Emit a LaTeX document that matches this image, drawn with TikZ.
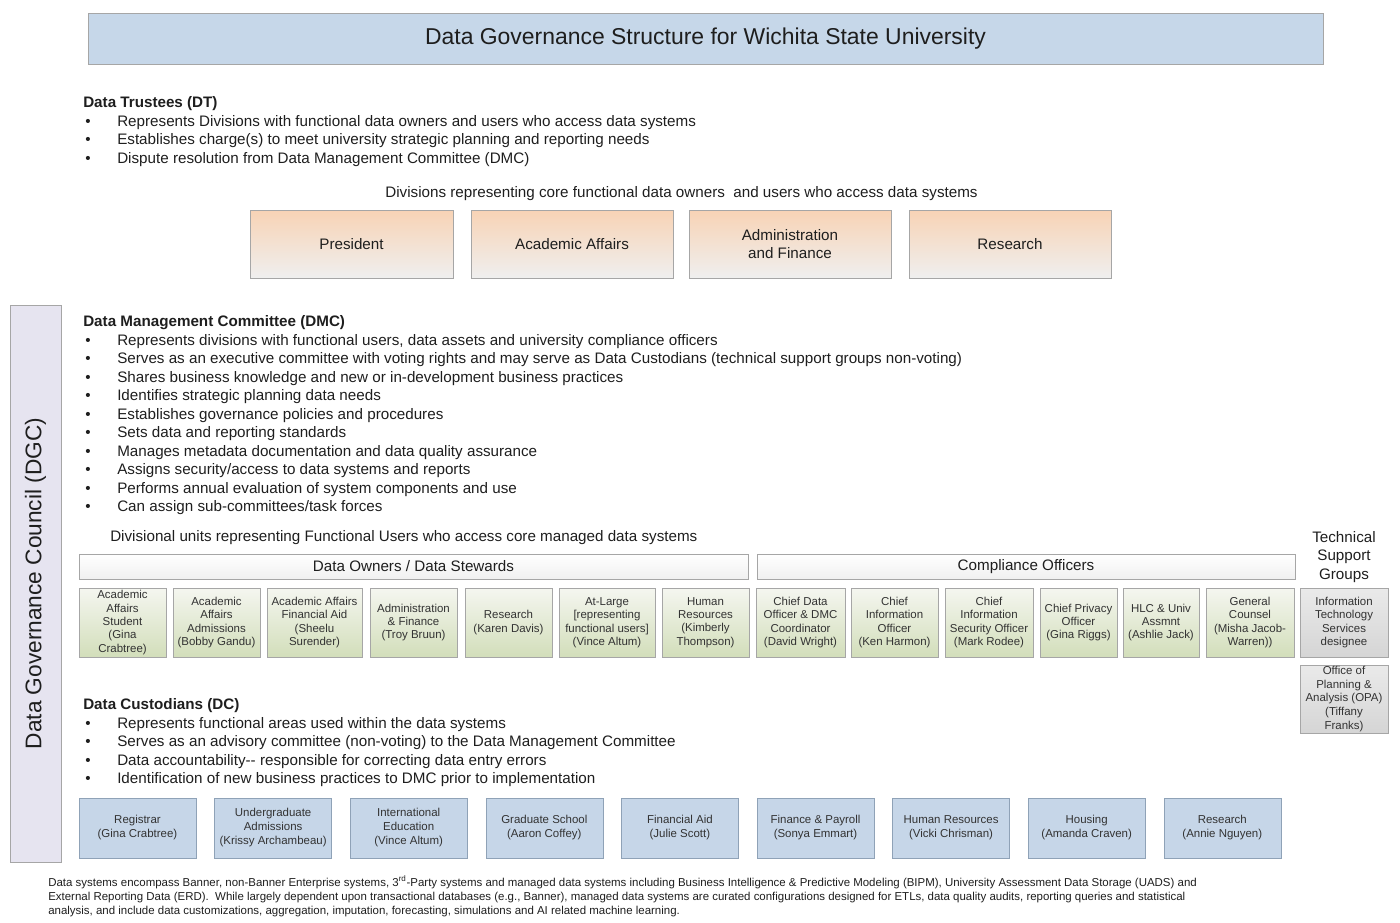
\documentclass[tikz,border=0pt]{standalone}
\usepackage{fontspec}
\setmainfont{Liberation Sans}
\usetikzlibrary{positioning,shadows}

\definecolor{txt}{HTML}{1E1E1E}
\definecolor{boxtxt}{HTML}{333333}
\definecolor{boxline}{HTML}{A6A6A6}
\definecolor{titlefill}{HTML}{C6D7E9}
\definecolor{bluefill}{HTML}{C6D6E8}
\definecolor{blueline}{HTML}{8FA2B7}
\definecolor{orgtop}{HTML}{F8D3B5}
\definecolor{orgbot}{HTML}{EFEFEF}
\definecolor{grntop}{HTML}{F5F6F0}
\definecolor{grnbot}{HTML}{D2DEBA}
\definecolor{grytop}{HTML}{EAEAEA}
\definecolor{grybot}{HTML}{D5D5D5}
\definecolor{dgcfill}{HTML}{E6E4F0}

\begin{document}
\begin{tikzpicture}[x=0.75pt, y=-0.75pt,
  every node/.style={text=txt, font=\fontsize{11.4}{13.9}\selectfont},
  heading/.style={anchor=west, inner sep=0pt, yshift=-1.5pt, font=\bfseries\fontsize{11.4}{13.9}\selectfont},
  bullettext/.style={anchor=west, inner sep=0pt, yshift=-1.5pt},
  bulletdot/.style={inner sep=0pt, yshift=-1.5pt},
  sized/.style 2 args={minimum width={(#1)*0.75pt}, minimum height={(#2)*0.75pt}, inner sep=1pt, align=center},
  divbox/.style={draw=boxline, top color=orgtop, bottom color=orgbot},
  barbox/.style={draw=boxline, top color=white, bottom color=grytop!70,
    drop shadow={opacity=0.25, shadow xshift=1pt, shadow yshift=-1pt}},
  ownbox/.style={draw=boxline, top color=grntop, bottom color=grnbot, text=boxtxt,
    font=\fontsize{8.6}{10.1}\selectfont},
  techbox/.style={draw=boxline, top color=grytop, bottom color=grybot, text=boxtxt,
    font=\fontsize{8.6}{10.2}\selectfont},
  custbox/.style={draw=blueline, fill=bluefill, text=boxtxt,
    font=\fontsize{8.6}{10.5}\selectfont}
]
\useasboundingbox (0,0) rectangle (1400,922);

% title
\node[draw=boxline, fill=titlefill, sized={1235}{51}, font=\fontsize{17.2}{20}\selectfont]
  (title) at (705.5,38.5) {\raisebox{-1.5pt}{Data Governance Structure for Wichita State University}};

% data trustees
\node[heading] (dt) at (83,102) {Data Trustees (DT)};
\foreach \t [count=\i] in {
  Represents Divisions with functional data owners and users who access data systems,
  Establishes charge(s) to meet university strategic planning and reporting needs,
  Dispute resolution from Data Management Committee (DMC)}
{
  \node[bulletdot] (dtb\i) at (88,{102+18.5*\i}) {\textbullet};
  \node[bullettext] (dt\i) at (117,{102+18.5*\i}) {\t};
}

\node[yshift=-1.5pt] (divlabel) at (681.5,192) {Divisions representing core functional data owners \ and users who access data systems};
\node[divbox, sized={203}{68}] (president) at (351.5,244) {President};
\node[divbox, sized={202}{68}] (acad) at (572,244) {Academic Affairs};
\node[divbox, sized={202}{68}] (adminfin) at (790,244) {Administration\\and Finance};
\node[divbox, sized={202}{68}] (research) at (1010,244) {Research};

% council bar
\node[draw=boxline, fill=dgcfill, sized={51}{557}] (dgc) at (35.5,583.5) {};
\node[rotate=90, font=\fontsize{17}{20}\selectfont] (dgclabel) at (dgc.center) {Data Governance Council (DGC)};

% data management committee
\node[heading] (dmc) at (83,321) {Data Management Committee (DMC)};
\foreach \t [count=\i] in {
  {Represents divisions with functional users, data assets and university compliance officers},
  Serves as an executive committee with voting rights and may serve as Data Custodians (technical support groups non-voting),
  Shares business knowledge and new or in-development business practices,
  Identifies strategic planning data needs,
  Establishes governance policies and procedures,
  Sets data and reporting standards,
  Manages metadata documentation and data quality assurance,
  Assigns security/access to data systems and reports,
  Performs annual evaluation of system components and use,
  Can assign sub-committees/task forces}
{
  \node[bulletdot] (dmcb\i) at (88,{321+18.5*\i}) {\textbullet};
  \node[bullettext] (dmc\i) at (117,{321+18.5*\i}) {\t};
}

\node[bullettext] (unitlabel) at (110,536) {Divisional units representing Functional Users who access core managed data systems};
\node[align=center, yshift=-1.5pt] (techlabel) at (1344,555) {Technical\\Support\\Groups};

\node[barbox, sized={669}{25}] (owners) at (413.5,566.5) {Data Owners / Data Stewards};
\node[barbox, sized={538}{25}] (compliance) at (1026,566.5) {Compliance Officers};

% owners, stewards and compliance officers
\foreach \xa/\xb/\t [count=\i] in {
  79/166/{Academic\\Affairs\\Student\\(Gina\\Crabtree)},
  173/260/{Academic\\Affairs\\Admissions\\(Bobby Gandu)},
  267/362/{Academic Affairs\\Financial Aid\\(Sheelu\\Surender)},
  370/457/{Administration\\\& Finance\\(Troy Bruun)},
  465/552/{Research\\(Karen Davis)},
  559/655/{At-Large\\{[}representing\\functional users{]}\\(Vince Altum)},
  662/749/{Human\\Resources\\(Kimberly\\Thompson)},
  756/845/{Chief Data\\Officer \& DMC\\Coordinator\\(David Wright)},
  851/938/{Chief\\Information\\Officer\\(Ken Harmon)},
  945/1033/{Chief\\Information\\Security Officer\\(Mark Rodee)},
  1040/1117/{Chief Privacy\\Officer\\(Gina Riggs)},
  1123/1199/{HLC \& Univ\\Assmnt\\(Ashlie Jack)},
  1206/1294/{General\\Counsel\\(Misha Jacob-\\Warren))}}
{
  \node[ownbox, sized={\xb-\xa}{69}] (own\i) at ({(\xa+\xb)/2},622.5) {\t};
}

\node[techbox, sized={88}{69}] (its) at (1344,622.5) {Information\\Technology\\Services\\designee};
\node[techbox, sized={88}{68}] (opa) at (1344,699) {Office of\\Planning \&\\Analysis (OPA)\\(Tiffany\\Franks)};

% data custodians
\node[heading] (dc) at (83,704) {Data Custodians (DC)};
\foreach \t [count=\i] in {
  Represents functional areas used within the data systems,
  Serves as an advisory committee (non-voting) to the Data Management Committee,
  Data accountability-{}- responsible for correcting data entry errors,
  Identification of new business practices to DMC prior to implementation}
{
  \node[bulletdot] (dcb\i) at (88,{704+18.5*\i}) {\textbullet};
  \node[bullettext] (dc\i) at (117,{704+18.5*\i}) {\t};
}

\foreach \t [count=\i from 0] in {
  {Registrar\\(Gina Crabtree)},
  {Undergraduate\\Admissions\\(Krissy Archambeau)},
  {International\\Education\\(Vince Altum)},
  {Graduate School\\(Aaron Coffey)},
  {Financial Aid\\(Julie Scott)},
  {Finance \& Payroll\\(Sonya Emmart)},
  {Human Resources\\(Vicki Chrisman)},
  {Housing\\(Amanda Craven)},
  {Research\\(Annie Nguyen)}}
{
  \node[custbox, sized={117}{60}] (cust\i) at ({137.5+135.6*\i},828) {\t};
}

% footnote
\node[anchor=west, inner sep=0pt, align=left, font=\fontsize{8.6}{10.5}\selectfont] (note) at (48,896)
  {Data systems encompass Banner, non-Banner Enterprise systems, 3\textsuperscript{rd}-Party systems and managed data systems including Business Intelligence \& Predictive Modeling (BIPM), University Assessment Data Storage (UADS) and\\
   External Reporting Data (ERD). \ While largely dependent upon transactional databases (e.g., Banner), managed data systems are curated configurations designed for ETLs, data quality audits, reporting queries and statistical\\
   analysis, and include data customizations, aggregation, imputation, forecasting, simulations and AI related machine learning.};
\end{tikzpicture}
\end{document}
